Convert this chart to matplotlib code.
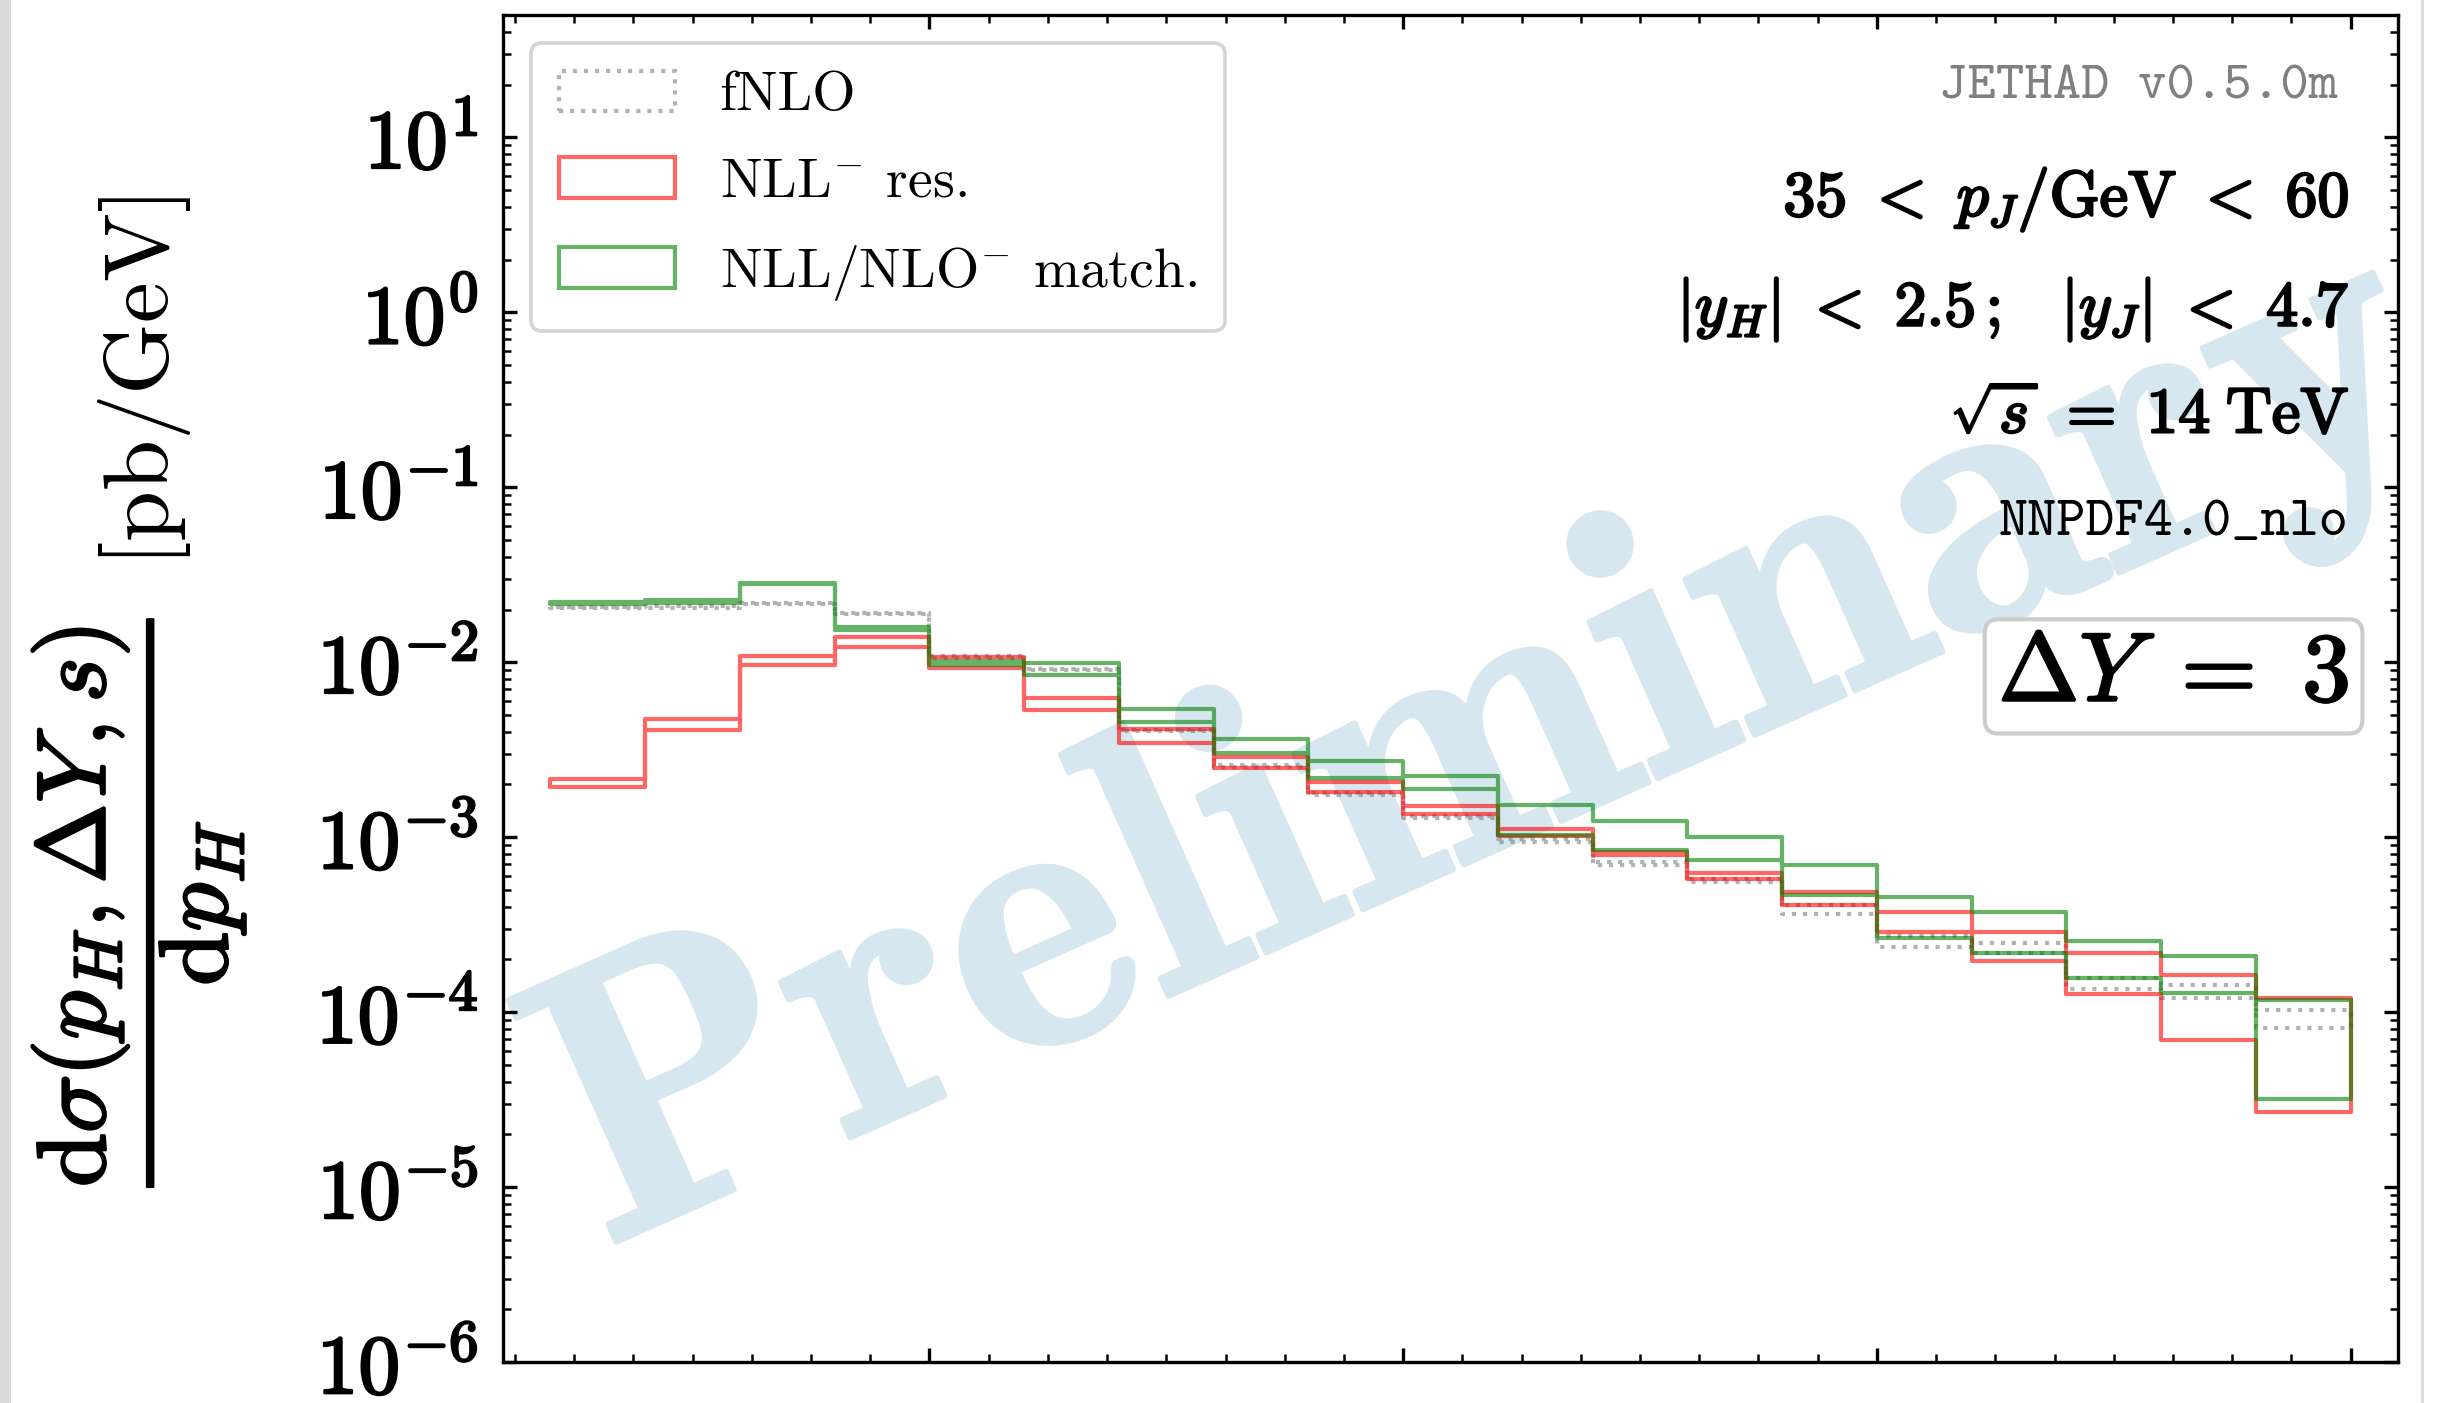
import matplotlib
matplotlib.use("Agg")
import matplotlib.pyplot as plt
from matplotlib import patheffects
from matplotlib.patches import Patch, Rectangle
from matplotlib.ticker import MultipleLocator, LogLocator, FuncFormatter, NullFormatter
import numpy as np

plt.rcParams['mathtext.fontset'] = 'cm'
plt.rcParams['font.family'] = 'serif'
plt.rcParams['font.serif'] = ['cmr10']
plt.rcParams['axes.formatter.use_mathtext'] = True

# p_H bin edges [GeV]
bin_edges = [10, 20, 30, 40, 50, 60, 70, 80, 90, 100,
             110, 120, 130, 140, 150, 160, 170, 180, 190, 200]

# fNLO band
fnlo_lo = [0.0205, 0.0205, 0.0214, 0.0188, 0.0106, 0.0090, 0.00405, 0.00252, 0.00175, 0.00129,
           0.00094, 0.00069, 0.000555, 0.000366, 0.000237, 0.000219, 0.000136, 0.000121, 8.15e-5]
fnlo_hi = [0.0208, 0.0209, 0.0218, 0.0192, 0.0108, 0.0092, 0.00412, 0.00258, 0.00179, 0.00132,
           0.00098, 0.00072, 0.00058, 0.000411, 0.000273, 0.000247, 0.000156, 0.000143, 0.000103]

# NLL- resummed band
nll_lo = [0.00194, 0.00408, 0.0097, 0.01222, 0.00929, 0.00532, 0.00347, 0.00249, 0.00181, 0.00136,
          0.00102, 0.00079, 0.000577, 0.000411, 0.000288, 0.000196, 0.000127, 6.9e-5, 2.68e-5]
nll_hi = [0.00216, 0.00476, 0.01084, 0.01393, 0.0107, 0.00627, 0.00413, 0.00288, 0.00207, 0.00151,
          0.00111, 0.00082, 0.000625, 0.000488, 0.000372, 0.000286, 0.000217, 0.000163, 0.000121]

# NLL/NLO- matched band
match_lo = [0.0214, 0.0218, 0.0278, 0.0152, 0.0097, 0.00845, 0.00456, 0.00304, 0.00218, 0.00188,
            0.00103, 0.00084, 0.000745, 0.000467, 0.000264, 0.000219, 0.000156, 0.000129, 3.2e-5]
match_hi = [0.0220, 0.0227, 0.0285, 0.0158, 0.0101, 0.00984, 0.0054, 0.00366, 0.00272, 0.00224,
            0.00153, 0.00123, 0.0010, 0.000689, 0.000453, 0.000372, 0.000256, 0.00021, 0.000117]

series_labels = ['fNLO', r'NLL$^{-}$ res.', r'NLL/NLO$^{-}$ match.']
series_colors = ['gray', 'red', 'green']
series_styles = [':', '-', '-']

bold = [patheffects.withStroke(linewidth=0.9, foreground='black')]


def draw_band(ax, lo, hi, color, ls):
    x = np.array(bin_edges, dtype=float)
    y1 = np.append(lo, lo[-1])
    y2 = np.append(hi, hi[-1])
    ax.fill_between(x, y1, y2, step='post', facecolor='none', edgecolor=color,
                    linestyle=ls, linewidth=1.5, alpha=0.6, zorder=3)


fig = plt.figure(figsize=(12.245, 7.015), dpi=200)
ax = fig.add_axes([0.2054, 0.0292, 0.7738, 0.9601])

# watermark
ax.text(0.52, 0.455, 'Preliminary', transform=ax.transAxes, rotation=24,
        ha='center', va='center', fontsize=139, family='cmb10',
        color='#d6e7f0', zorder=0, clip_on=True,
        path_effects=[patheffects.withStroke(linewidth=2, foreground='#d6e7f0')])

bands = [(fnlo_lo, fnlo_hi), (nll_lo, nll_hi), (match_lo, match_hi)]
for (lo, hi), c, ls in zip(bands, series_colors, series_styles):
    draw_band(ax, lo, hi, c, ls)

ax.set_yscale('log')
ax.set_ylim(1e-6, 50)
ax.set_xlim(5, 205)
ax.xaxis.set_major_locator(MultipleLocator(50))
ax.xaxis.set_minor_locator(MultipleLocator(6.25))
ax.yaxis.set_major_locator(LogLocator(base=10, numticks=20))
ax.yaxis.set_minor_locator(LogLocator(base=10, subs=np.arange(2, 10), numticks=20))
ax.yaxis.set_major_formatter(FuncFormatter(lambda v, p: r'$\mathbf{10^{%d}}$' % round(np.log10(v))))
ax.yaxis.set_minor_formatter(NullFormatter())
ax.tick_params(which='both', direction='in', top=True, right=True, labelbottom=False)
ax.tick_params(which='major', length=5, width=1.2, labelsize=30, pad=9)
ax.tick_params(which='minor', length=3, width=0.9)
for s in ax.spines.values():
    s.set_linewidth(1.2)

handles = [Patch(facecolor='none', edgecolor=c, linestyle=ls, linewidth=1.5, alpha=0.6)
           for c, ls in zip(series_colors, series_styles)]
leg = ax.legend(handles, series_labels, loc='upper left', fontsize=20, fancybox=True,
                framealpha=1, edgecolor='#d4d4d4', handlelength=2.1, handleheight=0.75,
                handletextpad=0.8, labelspacing=0.64, borderaxespad=0.5, borderpad=0.5)
leg.get_frame().set_linewidth(1.3)

# info text
ax.text(0.968, 0.946, 'JETHAD v0.5.0m', transform=ax.transAxes, ha='right', va='center',
        family='cmtt10', fontsize=19.5, color='#808080')
ax.text(0.974, 0.863, r'$35\ <\ p_J/\mathrm{GeV}\ <\ 60$', transform=ax.transAxes,
        ha='right', va='center', fontsize=23, path_effects=bold)
ax.text(0.974, 0.781, r'$|y_H|\ <\ 2.5\,;\;\;\;|y_J|\ <\ 4.7$', transform=ax.transAxes,
        ha='right', va='center', fontsize=23, path_effects=bold)
ax.text(0.974, 0.702, r'$\sqrt{s}\ =\ 14\;\mathrm{TeV}$', transform=ax.transAxes,
        ha='right', va='center', fontsize=23, path_effects=bold)
ax.text(0.974, 0.622, 'NNPDF4.0_nlo', transform=ax.transAxes, ha='right', va='center',
        family='cmtt10', fontsize=20, color='black')
ax.text(0.974, 0.509, r'$\Delta Y\ =\ 3$', transform=ax.transAxes, ha='right', va='center',
        fontsize=35, path_effects=bold,
        bbox=dict(boxstyle='round,pad=0.14', facecolor='white', edgecolor='#cccccc', linewidth=1.5))

# y label: fraction (bold) + units
fig.text(0.0565, 0.357, r'$\dfrac{\mathrm{d}\sigma(p_H, \Delta Y, s)}{\mathrm{d}p_H}$',
         rotation=90, ha='center', va='center', fontsize=35, path_effects=bold)
fig.text(0.059, 0.728, r'$[\mathrm{pb}/\mathrm{GeV}]$', rotation=90, ha='center', va='center',
         fontsize=33)

# viewer edge strips
fig.patches.append(Rectangle((0, 0), 11 / 2449, 1, transform=fig.transFigure,
                             facecolor='#d9d9d9', edgecolor='none'))
fig.patches.append(Rectangle((2421 / 2449, 0), 3 / 2449, 1, transform=fig.transFigure,
                             facecolor='#dcdcdc', edgecolor='none'))

fig.canvas.draw()
for lab in ax.get_yticklabels():
    lab.set_path_effects(bold)

fig.savefig('out.png', dpi=200)
